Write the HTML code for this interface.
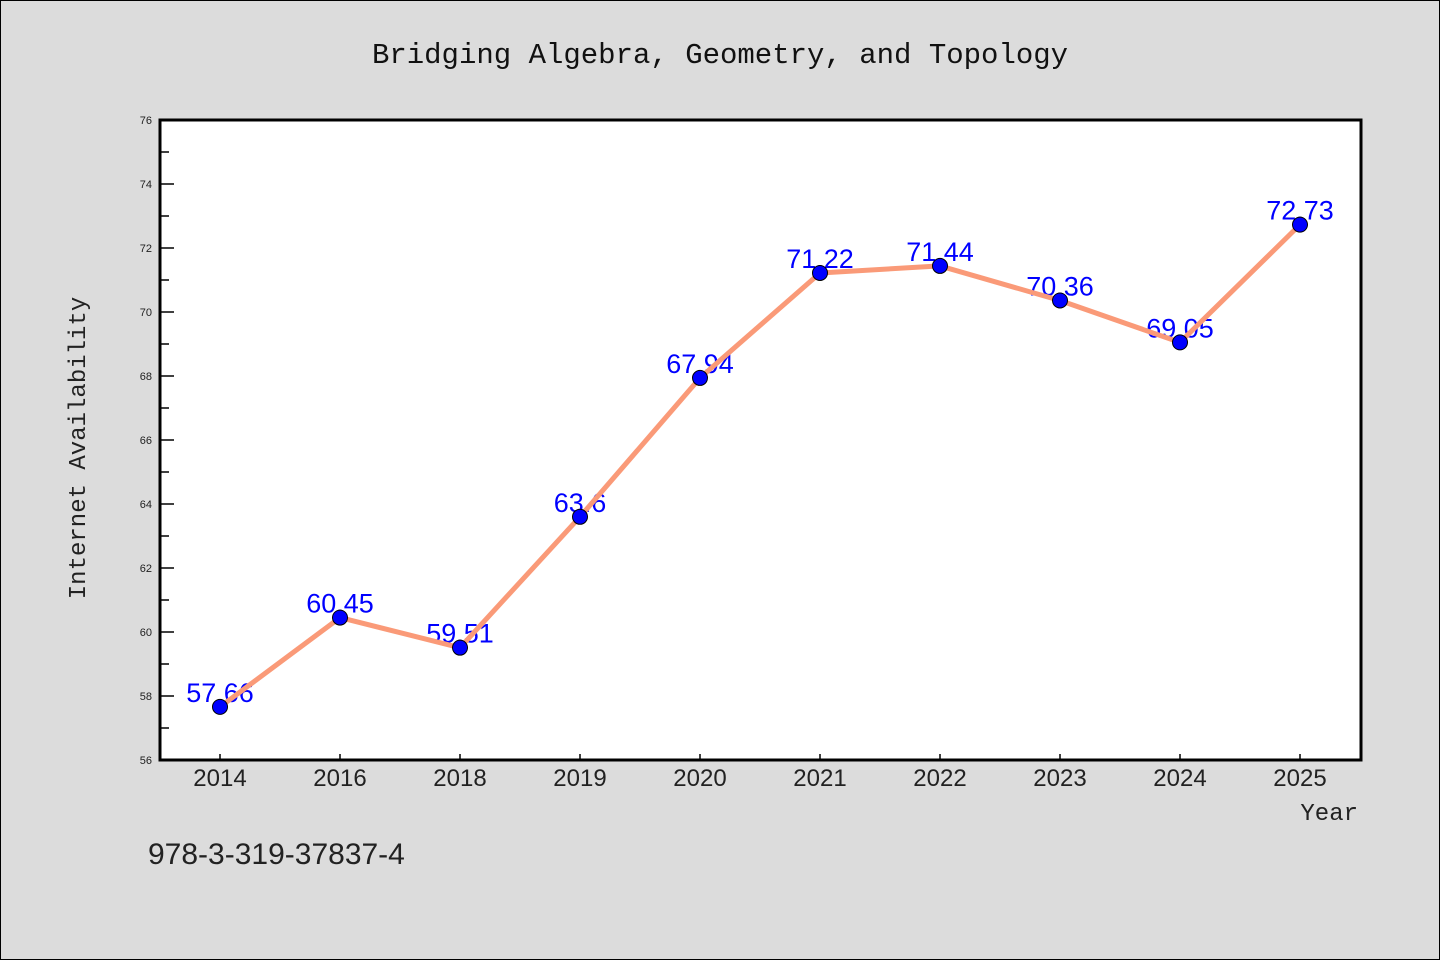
<!DOCTYPE html>
<html><head><meta charset="utf-8"><style>
body{margin:0;background:#dcdcdc;}
svg{display:block;font-family:"Liberation Sans","WenQuanYi Zen Hei",sans-serif;}
</style></head><body>
<svg id="chart" width="1440" height="960">
<rect x="0.5" y="0.5" width="1439" height="959" fill="#dcdcdc" stroke="#000"/>
<text x="720" y="63" text-anchor="middle" font-size="29" font-family="Liberation Mono, monospace" fill="#111">Bridging Algebra, Geometry, and Topology</text>
<rect x="160" y="120" width="1201" height="640" fill="#fff"/>
<g id="axes"></g>
<g id="marks"></g>
<rect x="160" y="120" width="1201" height="640" fill="none" stroke="#000" stroke-width="3"/>
<text x="85" y="448" transform="rotate(-90 85 448)" text-anchor="middle" font-size="24" font-family="Liberation Mono, monospace" fill="#222">Internet Availability</text>
<text x="1358" y="820" text-anchor="end" font-size="24" font-family="Liberation Mono, monospace" fill="#222">Year</text>
<text x="148" y="864" font-size="30" fill="#222">978-3-319-37837-4</text>
</svg>
<script>
const categories=["2014","2016","2018","2019","2020","2021","2022","2023","2024","2025"];
const values=[57.66,60.45,59.51,63.6,67.94,71.22,71.44,70.36,69.05,72.73];
const labels=["57.66","60.45","59.51","63.6","67.94","71.22","71.44","70.36","69.05","72.73"];
const yTicks=[56,58,60,62,64,66,68,70,72,74,76];
const NS="http://www.w3.org/2000/svg";
const x0=160,x1=1361,y0=120,y1=760,yMin=56,yMax=76;
const xs=i=>x0+60+i*(x1-x0-121)/(categories.length-1);
const ys=v=>y1-(v-yMin)/(yMax-yMin)*(y1-y0);
function mk(tag,attrs,parent){const e=document.createElementNS(NS,tag);for(const k in attrs)e.setAttribute(k,attrs[k]);parent.appendChild(e);return e;}
const ax=document.getElementById('axes'),mg=document.getElementById('marks');
yTicks.forEach(t=>{
 const y=ys(t);
 const l=mk('line',{x1:x0,x2:x0+14,y1:y,y2:y,stroke:'#000','stroke-width':1.5},ax);
 
 
 const tx=mk('text',{x:x0-8,y:y+4,'text-anchor':'end','font-size':11,fill:'#222'},ax);
 tx.textContent=t;
 
 
 if(t<yMax){const m=ys(t+1);
  const ml=mk('line',{x1:x0,x2:x0+9,y1:m,y2:m,stroke:'#000','stroke-width':1.5},ax);
  
  }
});
categories.forEach((c,i)=>{
 const x=xs(i);
 const l=mk('line',{x1:x,x2:x,y1:y1,y2:y1-6,stroke:'#000','stroke-width':1.5},ax);
 
 
 const tx=mk('text',{x:x,y:y1+26,'text-anchor':'middle','font-size':24,fill:'#222'},ax);
 tx.textContent=c;
 
 
});
values.forEach((v,i)=>{
 const t=mk('text',{x:xs(i),y:ys(v)-5,'text-anchor':'middle','font-size':27,fill:'#0000ff'},mg);
 t.textContent=labels[i];
 
 
});
const pl=mk('polyline',{points:values.map((v,i)=>xs(i)+','+ys(v)).join(' '),fill:'none',stroke:'#fa9a78','stroke-width':5,'stroke-linejoin':'round'},mg);


values.forEach((v,i)=>{
 const c=mk('circle',{cx:xs(i),cy:ys(v),r:7.5,fill:'#0000ff',stroke:'#000','stroke-width':1},mg);
 
 
});
</script>
</body></html>
